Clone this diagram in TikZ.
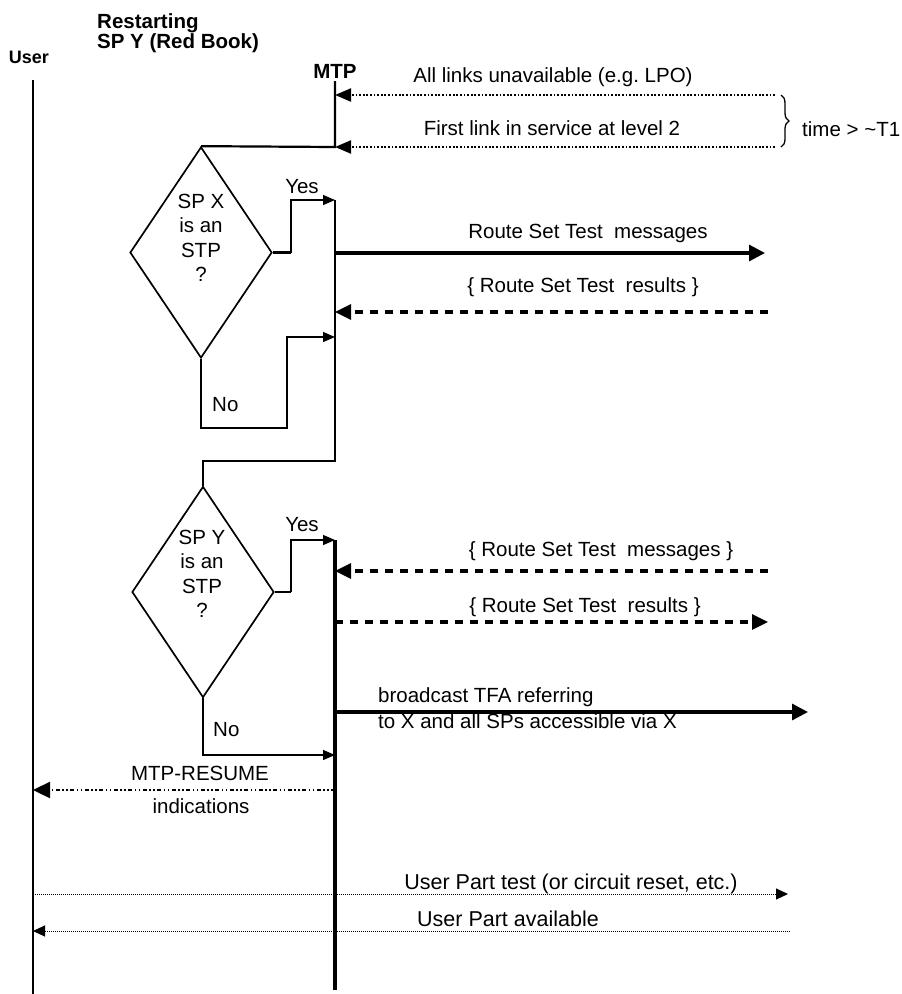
\documentclass[tikz,border=0pt]{standalone}
\usepackage{fontspec}
\setmainfont{Liberation Sans}
\usetikzlibrary{arrows.meta,shapes.geometric,decorations.pathreplacing}

\begin{document}
\begin{tikzpicture}[x=1pt,y=-1pt,
  every node/.style={inner sep=0pt, font=\fontsize{20.5}{24.3}\selectfont},
  head/.style={font=\bfseries\fontsize{20.5}{24.3}\selectfont},
  uptext/.style={font=\fontsize{21.5}{24}\selectfont},
  life/.style={line width=1.5pt},
  mtpthin/.style={line width=2.2pt},
  mtpthick/.style={line width=3.5pt},
  decision/.style={draw, diamond, line width=1.7pt, minimum width=142pt, minimum height=211pt, inner sep=0pt},
  stub/.style={line width=2.7pt},
  flow/.style={line width=1.3pt, -{Triangle[length=12pt,width=10pt]}},
  dotmsg/.style={line width=2.2pt, dash pattern=on 1.8pt off 1.8pt, -{Triangle[length=16pt,width=13pt]}},
  solidmsg/.style={line width=3.2pt, -{Triangle[length=16pt,width=16pt]}},
  dashmsg/.style={line width=3.2pt, dash pattern=on 8pt off 7pt, -{Triangle[length=16pt,width=15pt]}},
  resume/.style={line width=2.3pt, dash pattern=on 4pt off 2.5pt on 1.5pt off 2.5pt on 1.5pt off 2.5pt, -{Triangle[length=17pt,width=16pt]}},
  upmsg/.style={line width=1pt, dash pattern=on 1pt off 1pt, -{Triangle[length=12pt,width=11pt]}},
  bracedeco/.style={decorate, decoration={brace, amplitude=8pt}, line width=1.3pt},
]
\useasboundingbox (0,0) rectangle (902,994);

% lifeline anchor points
\coordinate (u0) at (33,80);
\coordinate (u1) at (33,994);
\coordinate (m0) at (335,81);
\coordinate (m1) at (335,147);
\coordinate (m2) at (335,200);
\coordinate (m3) at (335,461);
\coordinate (m4) at (335,540);
\coordinate (m5) at (335,990);

% headers
\node[head, font=\bfseries\fontsize{18}{20}\selectfont, anchor=base] (userlbl) at (29,63) {User};
\node[head, anchor=base west] (hdr1) at (97,28) {Restarting};
\node[head, anchor=base west] (hdr2) at (97,48) {SP Y (Red Book)};
\node[head, anchor=base] (mtplbl) at (335,78) {MTP};

% decisions
\node[decision] (d1) at (201,252.5) {};
\node[decision] (d2) at (203,592) {};
\node[align=center, anchor=north] (d1t) at (201,194.1) {SP X\\is an\\STP\\?};
\node[align=center, anchor=north] (d2t) at (202,530.1) {SP Y\\is an\\STP\\?};

% lifelines
\draw[life] (u0) -- (u1);
\draw[mtpthin] (m0) -- (m1) -- (d1.north);
\draw[mtpthin] (m2) -- (m3) -| (d2.north);
\draw[mtpthick] (m4) -- (m5);

% branches of the first decision
\coordinate (y1) at (291,252.5);
\coordinate (n1) at (287,428);
\coordinate (n1e) at (335,337);
\draw[stub] (d1.east) -- (y1);
\draw[flow] (y1) |- (m2);
\draw[flow] (d1.south) |- (n1) |- (n1e);
\node[anchor=base] (yes1) at (302,193) {Yes};
\node[anchor=base west] (no1) at (212,411) {No};

% branches of the second decision
\coordinate (y2) at (291,592);
\coordinate (n2e) at (335,755);
\draw[stub] (d2.east) -- (y2);
\draw[flow] (y2) |- (m4);
\draw[flow] (d2.south) |- (n2e);
\node[anchor=base] (yes2) at (302,531) {Yes};
\node[anchor=base west] (no2) at (213,736) {No};

% link events
\coordinate (a1) at (775,95);
\coordinate (a2) at (775,147);
\draw[dotmsg] (a1) -- (a1 -| m0);
\draw[dotmsg] (a2) -- (a2 -| m0);
\node[anchor=base] (t1) at (553,82) {All links unavailable (e.g.\ LPO)};
\node[anchor=base] (t2) at (552,135) {First link in service at level 2};
\coordinate (b1) at (781,95);
\coordinate (b2) at (781,147);
\draw[bracedeco] (b1) -- (b2);
\node[anchor=base west] (t3) at (802,136) {time > \textasciitilde T1};

% route set test exchange
\coordinate (r1) at (765,253);
\coordinate (r2) at (768,312);
\coordinate (r3) at (768,571);
\coordinate (r4) at (768,622);
\coordinate (r5) at (808,712);
\draw[solidmsg] (r1 -| m0) -- (r1);
\node[anchor=base] (r1t) at (588,238) {Route Set Test\ \ messages};
\draw[dashmsg] (r2) -- (r2 -| m0);
\node[anchor=base] (r2t) at (583,292) {\{ Route Set Test\ \ results \}};
\draw[dashmsg] (r3) -- (r3 -| m0);
\node[anchor=base] (r3t) at (601,556) {\{ Route Set Test\ \ messages \}};
\draw[dashmsg] (r4 -| m0) -- (r4);
\node[anchor=base] (r4t) at (585,612) {\{ Route Set Test\ \ results \}};
\draw[solidmsg] (r5 -| m0) -- (r5);
\node[anchor=base west] (r5t) at (378,702) {broadcast TFA referring};
\node[anchor=base west] (r5u) at (378,728) {to X and all SPs accessible via X};

% indications to the user
\coordinate (rs) at (335,790);
\draw[resume] (rs) -- (rs -| u0);
\node[anchor=base] (rst) at (200,780) {MTP-RESUME};
\node[anchor=base] (rsu) at (201,813) {indications};

% user part exchange
\coordinate (up1) at (788,894);
\coordinate (up2) at (790,931);
\draw[upmsg] (up1 -| u0) -- (up1);
\node[uptext, anchor=base] (up1t) at (571,889) {User Part test (or circuit reset, etc.)};
\draw[upmsg] (up2) -- (up2 -| u0);
\node[uptext, anchor=base] (up2t) at (508,926) {User Part available};
\end{tikzpicture}
\end{document}
